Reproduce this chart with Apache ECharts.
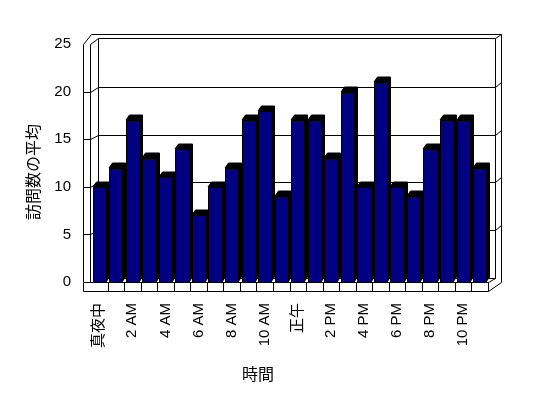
<!DOCTYPE html>
<html>
<head>
<meta charset="utf-8">
<script src="https://cdn.jsdelivr.net/npm/echarts@6/dist/echarts.min.js"></script>
<style>
html, body { margin: 0; padding: 0; background: #fff; }
#chart { width: 548px; height: 398px; }
</style>
</head>
<body>
<div id="chart"></div>
<script>
// 時間ごとの訪問数
var hours = ['真夜中', '1 AM', '2 AM', '3 AM', '4 AM', '5 AM', '6 AM', '7 AM', '8 AM', '9 AM', '10 AM', '11 AM',
             '正午', '1 PM', '2 PM', '3 PM', '4 PM', '5 PM', '6 PM', '7 PM', '8 PM', '9 PM', '10 PM', '11 PM'];
var visits = [10, 12, 17, 13, 11, 14, 7, 10, 12, 17, 18, 9, 17, 17, 13, 20, 10, 21, 10, 9, 14, 17, 17, 12];
var yTicks = [0, 5, 10, 15, 20, 25];
var yMax = yTicks[yTicks.length - 1];

var FONT = 'Liberation Sans, "Noto Sans CJK JP", sans-serif';
var DX = 6.7, DY = 4.4;      // 奥行き
var WALL = 7.7, FLOOR = 9.3;  // 壁と床の厚さ

function px(v) { return Math.round(v) + 0.5; }
function ln(x1, y1, x2, y2) {
    return { type: 'line', shape: { x1: px(x1), y1: px(y1), x2: px(x2), y2: px(y2) },
             style: { stroke: '#000', lineWidth: 1 } };
}

var myChart = echarts.init(document.getElementById('chart'));
var option = {
    animation: false,
    backgroundColor: '#fff',
    grid: { left: 91, right: 60, top: 44, bottom: 116 },
    xAxis: {
        type: 'category',
        data: hours,
        axisLine: { show: false },
        axisTick: { show: false },
        axisLabel: { interval: 1, rotate: 90, margin: 21, fontSize: 15, color: '#000', fontFamily: FONT }
    },
    yAxis: {
        type: 'value',
        min: 0, max: yMax, interval: 5,
        axisLine: { show: false },
        axisTick: { show: false },
        splitLine: { show: false },
        axisLabel: { margin: 20, fontSize: 15, color: '#000', fontFamily: FONT }
    },
    graphic: [
        { type: 'text', left: 25, top: 124, rotation: Math.PI / 2,
          style: { text: '訪問数の平均', font: '16px "Noto Sans CJK JP"', fill: '#000' } },
        { type: 'text', left: 242, top: 366,
          style: { text: '時間', font: '16px "Noto Sans CJK JP"', fill: '#000' } }
    ],
    series: [{
        // 壁・床・目盛線
        type: 'custom',
        z: 1,
        silent: true,
        data: [[0, 0]],
        renderItem: function (params, api) {
            var bw = api.size([1, 0])[0];
            var x0 = api.coord([0, 0])[0] - bw / 2;
            var x1 = api.coord([hours.length - 1, 0])[0] + bw / 2;
            var y0 = api.coord([0, 0])[1];
            var yt = api.coord([0, yMax])[1];
            var c = [];
            c.push({ type: 'rect', shape: { x: px(x0 - WALL), y: px(y0), width: Math.round(x1 - x0 + WALL), height: Math.round(FLOOR) },
                     style: { fill: '#fff', stroke: '#000', lineWidth: 1 } });
            for (var k = 1; k < hours.length; k++) {
                c.push(ln(x0 + k * bw, y0, x0 + k * bw, y0 + FLOOR));
            }
            // 左の壁
            c.push(ln(x0 - WALL, yt, x0 - WALL, y0));
            c.push(ln(x0 - 1, yt, x0 - 1, y0));
            c.push(ln(x0 - WALL, yt, x0 + 0.3, yt - 9.7));
            c.push(ln(x0 - 1, yt, x0 + DX, yt - DY - 1.2));
            // 奥の壁
            c.push(ln(x0 + 0.3, yt - 9.7, x1 + 2 * DX, yt - 9.7));
            c.push(ln(x0 + DX, yt - DY - 1.2, x1 + DX, yt - DY - 1.2));
            c.push(ln(x0 + DX, yt - DY - 1.2, x0 + DX, y0 - DY));
            c.push(ln(x1 + DX, yt - DY - 1.2, x1 + DX, y0 - DY));
            c.push(ln(x1 + DX, yt - DY - 1.2, x1 + 2 * DX, yt - 9.7));
            c.push(ln(x1 + 2 * DX, yt - 9.7, x1 + 2 * DX, y0));
            c.push(ln(x0 + DX, y0 - DY, x1 + DX, y0 - DY));
            c.push(ln(x1, y0 + FLOOR, x1 + 2 * DX, y0));
            c.push(ln(x1, y0, x1 + DX, y0 - DY));
            // 目盛線
            yTicks.slice(1, -1).forEach(function (v) {
                var y = api.coord([0, v])[1];
                c.push(ln(x0 + DX, y - DY, x1 + DX, y - DY));
                c.push(ln(x0 - WALL, y, x0 - 1, y));
                c.push(ln(x0 - 1, y, x0 + DX, y - DY));
                c.push(ln(x1 + DX, y - DY, x1 + 2 * DX, y - 9.7));
            });
            return { type: 'group', children: c };
        }
    }, {
        // 棒
        type: 'custom',
        z: 2,
        data: visits.map(function (v, i) { return [i, v]; }),
        encode: { x: 0, y: 1 },
        renderItem: function (params, api) {
            var top = api.coord([api.value(0), api.value(1)]);
            var bottom = api.coord([api.value(0), 0]);
            var w = api.size([1, 0])[0] * 0.8;
            var xa = Math.round(top[0] - w / 2), xb = Math.round(top[0] + w / 2);
            var yt = Math.round(top[1]), yb = Math.round(bottom[1]);
            var d = 3.5, e = 5;
            return {
                type: 'group',
                children: [{
                    type: 'polygon',
                    shape: { points: [[xa, yt], [xa + d, yt - e], [xb + d, yt - e], [xb + d, yb - e], [xb, yb], [xb, yt]] },
                    style: { fill: '#000', stroke: '#000', lineWidth: 1 }
                }, {
                    type: 'rect',
                    shape: { x: xa + 0.5, y: yt + 0.5, width: xb - xa, height: yb - yt },
                    style: { fill: '#000080', stroke: '#000', lineWidth: 1 }
                }]
            };
        }
    }]
};
myChart.setOption(option);
</script>
</body>
</html>
